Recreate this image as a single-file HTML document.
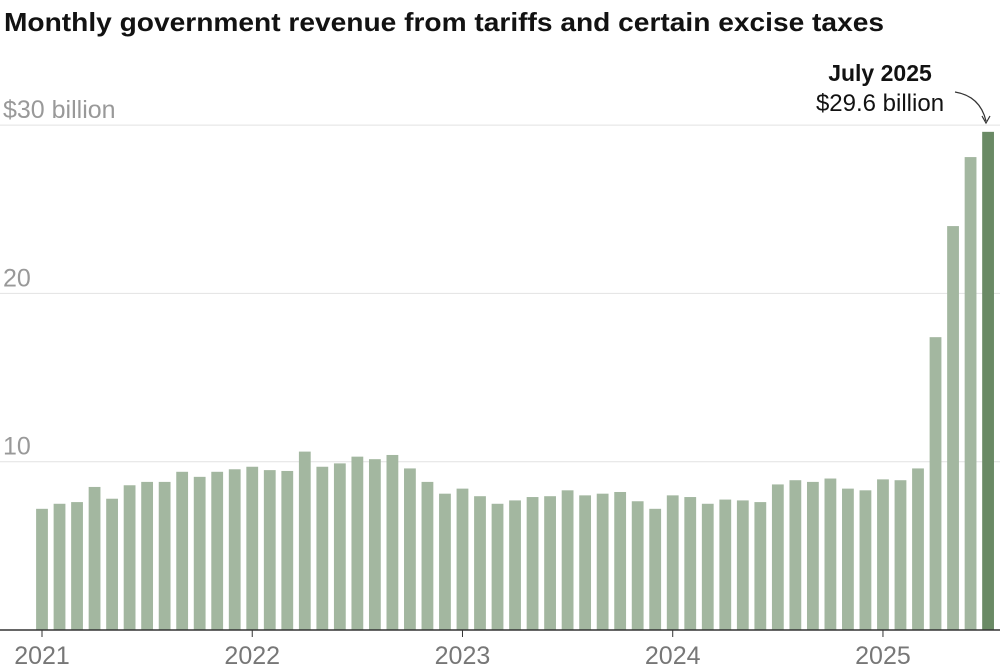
<!DOCTYPE html>
<html><head><meta charset="utf-8">
<style>
body{margin:0;background:#fff;width:1000px;height:666px;overflow:hidden;font-family:"Liberation Sans",sans-serif;}
</style></head>
<body>
<svg id="chart" width="1000" height="666" xmlns="http://www.w3.org/2000/svg">
<text x="4" y="31" font-size="26" font-weight="bold" fill="#121212" textLength="880" lengthAdjust="spacingAndGlyphs">Monthly government revenue from tariffs and certain excise taxes</text>
<g id="grid"></g>
<g id="bars"></g>
<g id="xaxis"></g>
<text x="880" y="81" font-size="23" font-weight="bold" text-anchor="middle" fill="#121212">July 2025</text>
<text x="880" y="111" font-size="24" text-anchor="middle" fill="#121212">$29.6 billion</text>
<path d="M955,92 Q980,96 986,121" fill="none" stroke="#333" stroke-width="1.2"/>
<path d="M982,116 L986,123 L990,116" fill="none" stroke="#333" stroke-width="1.2"/>
</svg>
<script>
const months = [];
for (let y = 2021; y <= 2025; y++) for (let m = 1; m <= 12; m++) { if (y === 2025 && m > 7) break; months.push(y + '-' + m); }
const values = [7.2,7.5,7.6,8.5,7.8,8.6,8.8,8.8,9.4,9.1,9.4,9.55,
9.7,9.5,9.45,10.6,9.7,9.9,10.3,10.15,10.4,9.6,8.8,8.1,
8.4,7.95,7.5,7.7,7.9,7.95,8.3,8.0,8.1,8.2,7.65,7.2,
8.0,7.9,7.5,7.75,7.7,7.6,8.65,8.9,8.8,9.0,8.4,8.3,
8.95,8.9,9.6,17.4,24.0,28.1,29.6];
const yTicks = [10,20,30];
const yTickLabels = ['10','20','$30 billion'];
const xYears = ['2021','2022','2023','2024','2025'];
const NS = 'http://www.w3.org/2000/svg';
const base = 630, perUnit = 16.83, x0 = 42, step = 17.52, bw = 11.8;
const yS = v => base - v * perUnit;
const xS = i => x0 + i * step;
const grid = document.getElementById('grid');
yTicks.forEach((t, k) => {
  const l = document.createElementNS(NS, 'line');
  
  
  l.setAttribute('x1', 0); l.setAttribute('x2', 1000);
  l.setAttribute('y1', yS(t)); l.setAttribute('y2', yS(t));
  l.setAttribute('stroke', '#e2e2e2'); l.setAttribute('stroke-width', 1);
  grid.appendChild(l);
  const tx = document.createElementNS(NS, 'text');
  
  
  tx.setAttribute('x', 3); tx.setAttribute('y', yS(t) - 7);
  tx.setAttribute('font-size', 25); tx.setAttribute('fill', '#999');
  tx.textContent = yTickLabels[k];
  grid.appendChild(tx);
});
const bars = document.getElementById('bars');
values.forEach((v, i) => {
  const r = document.createElementNS(NS, 'rect');
  
  
  r.setAttribute('x', xS(i) - bw / 2); r.setAttribute('y', yS(v));
  r.setAttribute('width', bw); r.setAttribute('height', base - yS(v));
  r.setAttribute('fill', i === values.length - 1 ? '#6a8a65' : '#a3b7a0');
  bars.appendChild(r);
});
const xa = document.getElementById('xaxis');
const ax = document.createElementNS(NS, 'line');


ax.setAttribute('x1', 0); ax.setAttribute('x2', 1000); ax.setAttribute('y1', base); ax.setAttribute('y2', base);
ax.setAttribute('stroke', '#333'); ax.setAttribute('stroke-width', 1.5);
xa.appendChild(ax);
xYears.forEach((yr, k) => {
  const x = xS(k * 12);
  const t = document.createElementNS(NS, 'line');
  
  
  t.setAttribute('x1', x); t.setAttribute('x2', x); t.setAttribute('y1', base); t.setAttribute('y2', base + 7);
  t.setAttribute('stroke', '#333');
  xa.appendChild(t);
  const tx = document.createElementNS(NS, 'text');
  
  
  tx.setAttribute('x', x); tx.setAttribute('y', 664);
  tx.setAttribute('font-size', 25); tx.setAttribute('fill', '#777'); tx.setAttribute('text-anchor', 'middle');
  tx.textContent = yr;
  xa.appendChild(tx);
});
</script>
</body></html>
